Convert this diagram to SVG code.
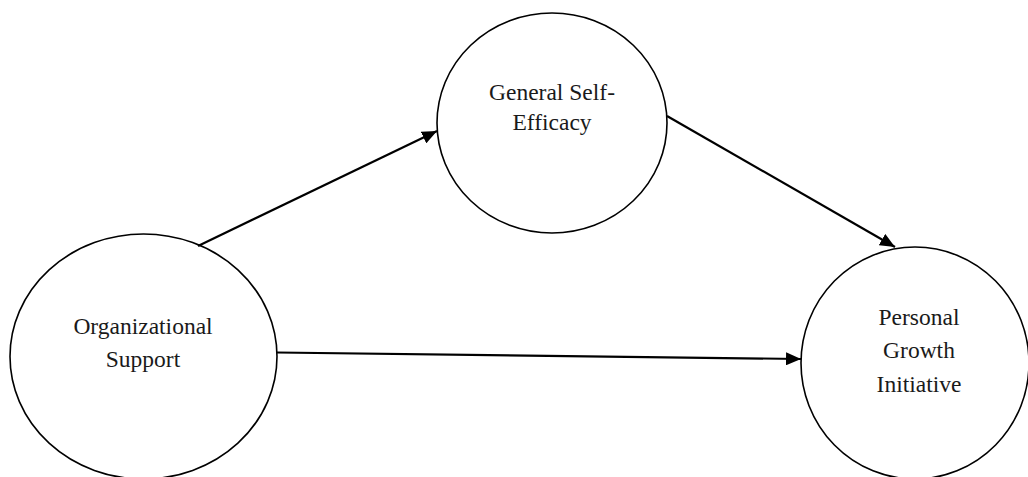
<svg xmlns="http://www.w3.org/2000/svg" width="1028" height="477" viewBox="0 0 1028 477">
<style>
.node{fill:#fff;stroke:#000;stroke-width:1.6}
.lbl{font-family:"Liberation Serif","Times New Roman",serif;font-size:23.5px;fill:#1a1a1a;text-anchor:middle}
.edge{stroke:#000;stroke-width:2.2;fill:none}
</style>
<defs>
<marker id="arr" markerWidth="15" markerHeight="13" refX="15" refY="6.5" orient="auto" markerUnits="userSpaceOnUse" viewBox="0 0 15 13">
<path d="M0,0 L15,6.5 L0,13 z" fill="#000"/>
</marker>
</defs>
<rect width="1028" height="477" fill="#fff"/>
<g id="node-org">
<ellipse class="node" cx="143.5" cy="356.5" rx="133.5" ry="122.5"/>
<text class="lbl" x="143" y="334">Organizational</text>
<text class="lbl" x="143" y="367">Support</text>
</g>
<g id="node-gse">
<ellipse class="node" cx="552" cy="123" rx="115" ry="110"/>
<text class="lbl" x="552" y="100">General Self-</text>
<text class="lbl" x="552" y="130">Efficacy</text>
</g>
<g id="node-pgi">
<ellipse class="node" cx="915" cy="363" rx="114" ry="116"/>
<text class="lbl" x="919" y="325">Personal</text>
<text class="lbl" x="919" y="358">Growth</text>
<text class="lbl" x="919" y="392">Initiative</text>
</g>
<g id="connectors">
<line class="edge" x1="198" y1="246" x2="437" y2="131" marker-end="url(#arr)"/>
<line class="edge" x1="667" y1="116" x2="895" y2="247" marker-end="url(#arr)"/>
<line class="edge" x1="277" y1="352.5" x2="801" y2="359" marker-end="url(#arr)"/>
</g>
</svg>
